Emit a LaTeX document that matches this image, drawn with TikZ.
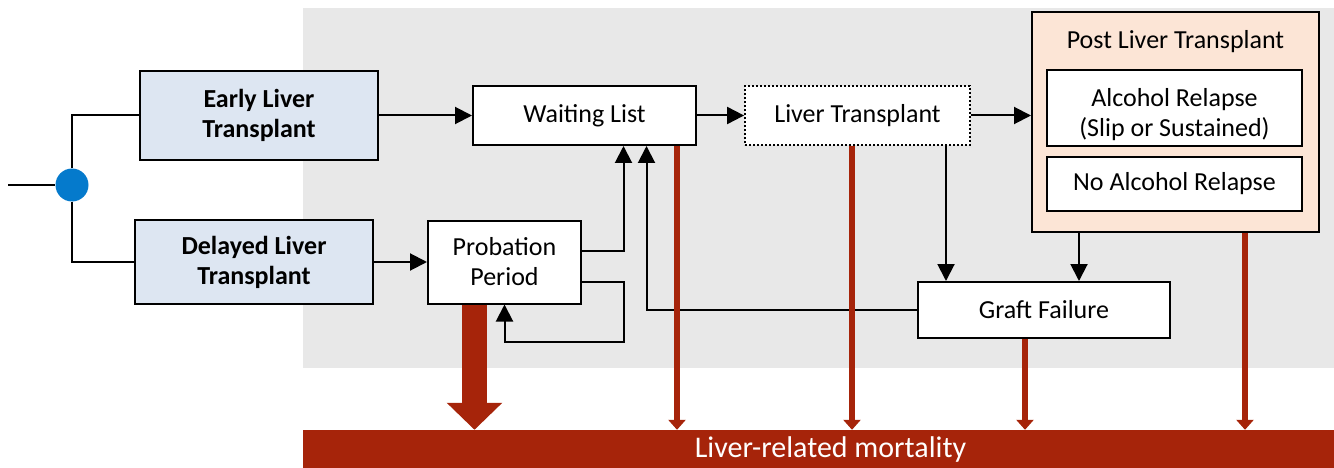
\documentclass[tikz,border=0pt]{standalone}
\usepackage{fontspec}
\setmainfont{Carlito}
\usetikzlibrary{arrows.meta}
\definecolor{bggray}{RGB}{232,232,232}
\definecolor{mred}{RGB}{166,36,10}
\definecolor{lblue}{RGB}{221,230,242}
\definecolor{peach}{RGB}{252,229,214}
\definecolor{dotblue}{RGB}{5,122,204}
\tikzset{
  boxst/.style={draw=black, line width=2pt, fill=white, inner sep=0pt, align=center,
    font=\fontsize{26}{30}\selectfont},
  conn/.style={line width=2pt, draw=black},
  arr/.style={conn, -{Triangle[length=17pt,width=17pt]}},
  redarr/.style={draw=mred, line width=6pt, -{Triangle[length=10pt,width=17pt]}},
  bigred/.style={draw=mred, line width=25pt, -{Triangle[length=27pt,width=54pt]}},
}
\begin{document}
\begin{tikzpicture}[x=1pt,y=-1pt]
\useasboundingbox (0,0) rectangle (1334,468);
\fill[bggray] (303,8) rectangle (1334,368);

% nodes
\node[circle, fill=dotblue, minimum size=33pt, inner sep=0pt] (dec) at (72,185) {};
\coordinate (start) at (8,185);
\node[boxst, fill=lblue, minimum width=238pt, minimum height=89pt, font=\fontsize{26}{30}\selectfont\bfseries] (early) at (259,115.5) {Early Liver\\Transplant};
\node[boxst, fill=lblue, minimum width=238pt, minimum height=84pt, font=\fontsize{26}{30}\selectfont\bfseries] (delayed) at (254,262) {Delayed Liver\\Transplant};
\node[boxst, minimum width=223pt, minimum height=59pt] (wl) at (584.5,115.5) {Waiting List};
\node[boxst, dash pattern=on 2pt off 2pt, line width=1.8pt, minimum width=225pt, minimum height=59pt] (lt) at (857.5,115.5) {Liver Transplant};
\node[boxst, fill=peach, minimum width=287pt, minimum height=220pt] (post) at (1175.5,122) {};
\node[font=\fontsize{26}{30}\selectfont, inner sep=0pt] (posttitle) at (1175.5,42) {Post Liver Transplant};
\node[boxst, minimum width=255pt, minimum height=76pt] (ar) at (1174.5,108)
  {\raisebox{-14pt}[0pt][0pt]{\begin{tabular}{@{}c@{}}Alcohol Relapse\\(Slip or Sustained)\end{tabular}}};
\node[boxst, minimum width=255pt, minimum height=53pt] (nar) at (1174.5,184) {No Alcohol Relapse};
\node[boxst, minimum width=153pt, minimum height=83pt] (pp) at (504.5,262) {Probation\\Period};
\node[boxst, minimum width=252pt, minimum height=56pt] (gf) at (1044,310) {Graft Failure};
\node[fill=mred, text=white, inner sep=0pt, minimum width=1055pt, minimum height=38pt,
  font=\fontsize{30}{34}\selectfont] (mort) at (830.5,449) {Liver-related mortality};

% black connectors
\draw[conn] (start) -- (dec.west);
\draw[conn] (dec.north) |- (early.west);
\draw[conn] (dec.south) |- (delayed.west);
\draw[arr] (early.east) -- (early.east -| wl.west);
\draw[arr] (wl.east) -- (lt.west);
\draw[arr] (lt.east) -- (lt.east -| post.west);
\draw[arr] (delayed.east) -- (delayed.east -| pp.west);
\draw[arr] ([yshift=11pt]pp.east) -| ([xshift=39pt]wl.south);
\draw[arr] ([yshift=-20pt]pp.east) -- ++(42,0) -- ++(0,60) -| (pp.south);
\draw[arr] (gf.west) -| ([xshift=62pt]wl.south);
\coordinate (ltd) at ([xshift=88.5pt]lt.south);
\draw[arr] (ltd) -- (ltd |- gf.north);
\coordinate (postd) at ([xshift=-96.5pt]post.south);
\draw[arr] (postd) -- (postd |- gf.north);

% red arrows
\coordinate (pps) at ([xshift=-30pt]pp.south);
\draw[bigred] (pps) -- (pps |- mort.north);
\coordinate (wls) at ([xshift=92.5pt]wl.south);
\draw[redarr] (wls) -- (wls |- mort.north);
\coordinate (lts) at ([xshift=-5.5pt]lt.south);
\draw[redarr] (lts) -- (lts |- mort.north);
\coordinate (gfs) at ([xshift=-19pt]gf.south);
\draw[redarr] (gfs) -- (gfs |- mort.north);
\coordinate (posts) at ([xshift=69.5pt]post.south);
\draw[redarr] (posts) -- (posts |- mort.north);
\end{tikzpicture}
\end{document}
